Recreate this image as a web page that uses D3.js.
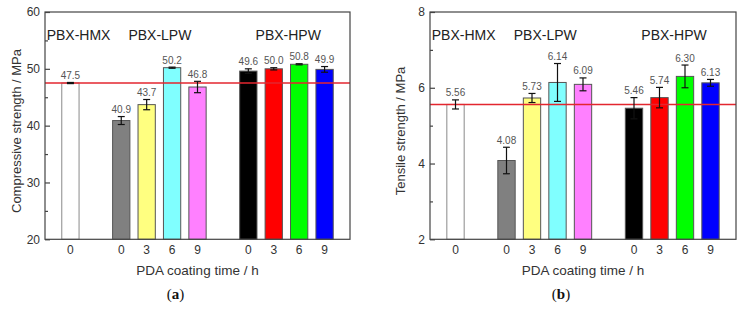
<!DOCTYPE html>
<html lang="en">

<head>
    <meta charset="UTF-8">
    <style>
        body { margin: 0; background: #fff; }
        svg text { font-family: "Liberation Sans", Arial, sans-serif; }
    </style>
    <title>PBX strength</title>
    <script src="https://cdn.jsdelivr.net/npm/d3@7/dist/d3.min.js"></script>
</head>

<body>
    <div id="chart"></div>
    <script>
        // slots along the x axis (HMX at 0, LPW at 2-5, HPW at 7-10)
        const slots = [0, 2, 3, 4, 5, 7, 8, 9, 10];
        const tickLabels = ['0', '0', '3', '6', '9', '0', '3', '6', '9'];
        const barColors = ['#ffffff', '#808080', '#ffff80', '#80ffff', '#ff80ff',
                           '#000000', '#ff0000', '#00ff00', '#0000ff'];
        const groups = ['PBX-HMX', 'PBX-LPW', 'PBX-HPW'];
        const groupSlots = [0.32, 3.52, 8.57];

        // compressive strength (a)
        const compValues = [47.5, 40.9, 43.7, 50.2, 46.8, 49.6, 50.0, 50.8, 49.9];
        const compErrors = [0.1, 0.7, 0.9, 0.1, 1.0, 0.4, 0.2, 0.1, 0.5];
        const compLabels = ['47.5', '40.9', '43.7', '50.2', '46.8', '49.6', '50.0', '50.8', '49.9'];
        const compTicks = [20, 30, 40, 50, 60];
        const compMinor = [25, 35, 45, 55];

        // tensile strength (b)
        const tensValues = [5.56, 4.08, 5.73, 6.14, 6.09, 5.46, 5.74, 6.30, 6.13];
        const tensErrors = [0.12, 0.35, 0.12, 0.5, 0.17, 0.28, 0.27, 0.3, 0.09];
        const tensLabels = ['5.56', '4.08', '5.73', '6.14', '6.09', '5.46', '5.74', '6.30', '6.13'];
        const tensTicks = [2, 4, 6, 8];
        const tensMinor = [3, 5, 7];

        const svg = d3.select('#chart')
            .append('svg')
            .attr('width', 743)
            .attr('height', 310);

        function drawPanel(opt) {
            const top = 12, bottom = 239.3;
            const x = d3.scaleLinear().domain([-1, 11]).range([opt.left, opt.right]);
            const y = d3.scaleLinear().domain(opt.domain).range([bottom, top]);
            const bw = (x(1) - x(0)) * 0.68;
            const g = svg.append('g');

            // bars
            g.selectAll('rect.bar')
                .data(opt.values)
                .enter()
                .append('rect')
                .attr('class', 'bar')
                .attr('x', (d, i) => x(slots[i]) - bw / 2)
                .attr('y', d => y(d))
                .attr('width', bw)
                .attr('height', d => bottom - y(d))
                .style('fill', (d, i) => barColors[i])
                .style('stroke', (d, i) => i === 0 ? '#8a8a8a' : '#555')
                .style('stroke-width', 1);

            // reference line at HMX value
            g.append('line')
                .attr('x1', opt.left).attr('x2', opt.right)
                .attr('y1', y(opt.values[0])).attr('y2', y(opt.values[0]))
                .style('stroke', '#e3262f')
                .style('stroke-width', 1.4);

            // error bars
            opt.values.forEach((v, i) => {
                const cx = x(slots[i]);
                const e = opt.errors[i];
                const eg = g.append('g').style('stroke', '#111').style('stroke-width', 1.2);
                eg.append('line').attr('x1', cx).attr('x2', cx).attr('y1', y(v - e)).attr('y2', y(v + e));
                eg.append('line').attr('x1', cx - 3.5).attr('x2', cx + 3.5).attr('y1', y(v - e)).attr('y2', y(v - e));
                eg.append('line').attr('x1', cx - 3.5).attr('x2', cx + 3.5).attr('y1', y(v + e)).attr('y2', y(v + e));
            });

            // value labels
            g.selectAll('text.val')
                .data(opt.values)
                .enter()
                .append('text')
                .attr('class', 'val')
                .attr('x', (d, i) => x(slots[i]))
                .attr('y', (d, i) => y(d + opt.errors[i]) - 3.5)
                .attr('text-anchor', 'middle')
                .style('font-size', '10px')
                .style('fill', '#555')
                .text((d, i) => opt.labels[i]);

            // frame
            g.append('rect')
                .attr('x', opt.left).attr('y', top)
                .attr('width', opt.right - opt.left).attr('height', bottom - top)
                .style('fill', 'none')
                .style('stroke', '#444')
                .style('stroke-width', 1.2);

            // y axis (ticks inward)
            const yAxis = d3.axisRight(y).tickValues(opt.ticks).tickSize(5).tickFormat('');
            g.append('g').attr('transform', `translate(${opt.left},0)`).call(yAxis)
                .call(a => a.select('.domain').remove())
                .selectAll('line').style('stroke', '#444').style('stroke-width', 1.2);
            const yMinor = d3.axisRight(y).tickValues(opt.minor).tickSize(3).tickFormat('');
            g.append('g').attr('transform', `translate(${opt.left},0)`).call(yMinor)
                .call(a => a.select('.domain').remove())
                .selectAll('line').style('stroke', '#444').style('stroke-width', 1.2);

            g.selectAll('text.ytick')
                .data(opt.ticks)
                .enter()
                .append('text')
                .attr('class', 'ytick')
                .attr('x', opt.left - 5)
                .attr('y', d => y(d) + 4.3)
                .attr('text-anchor', 'end')
                .style('font-size', '12px')
                .style('fill', '#333')
                .text(d => d);

            // x tick labels
            g.selectAll('text.xtick')
                .data(tickLabels)
                .enter()
                .append('text')
                .attr('class', 'xtick')
                .attr('x', (d, i) => x(slots[i]))
                .attr('y', 253.6)
                .attr('text-anchor', 'middle')
                .style('font-size', '12px')
                .style('fill', '#333')
                .text(d => d);

            // group labels
            g.selectAll('text.grp')
                .data(groups)
                .enter()
                .append('text')
                .attr('class', 'grp')
                .attr('x', (d, i) => x(groupSlots[i]))
                .attr('y', 40)
                .attr('text-anchor', 'middle')
                .style('font-size', '14px')
                .style('fill', '#222')
                .text(d => d);

            // axis titles
            g.append('text')
                .attr('x', (opt.left + opt.right) / 2)
                .attr('y', 275)
                .attr('text-anchor', 'middle')
                .style('font-size', '13.5px')
                .style('fill', '#333')
                .text('PDA coating time / h');

            g.append('text')
                .attr('transform', `translate(${opt.titleX},131) rotate(-90)`)
                .attr('text-anchor', 'middle')
                .style('font-size', '13px')
                .style('fill', '#333')
                .text(opt.yTitle);

            // panel letter
            const p = g.append('text')
                .attr('x', (opt.left + opt.right) / 2 - 22)
                .attr('y', 298.5)
                .attr('text-anchor', 'middle')
                .style('font-family', '"Liberation Serif", "Times New Roman", serif')
                .style('font-size', '15px')
                .style('fill', '#111');
            p.append('tspan').text('(');
            p.append('tspan').style('font-weight', 'bold').text(opt.letter);
            p.append('tspan').text(')');
        }

        drawPanel({
            left: 45, right: 350, domain: [20, 60],
            values: compValues, errors: compErrors, labels: compLabels,
            ticks: compTicks, minor: compMinor,
            yTitle: 'Compressive strength / MPa', titleX: 20.5, letter: 'a'
        });

        drawPanel({
            left: 430, right: 736, domain: [2, 8],
            values: tensValues, errors: tensErrors, labels: tensLabels,
            ticks: tensTicks, minor: tensMinor,
            yTitle: 'Tensile strength / MPa', titleX: 404.5, letter: 'b'
        });
    </script>
</body>

</html>
